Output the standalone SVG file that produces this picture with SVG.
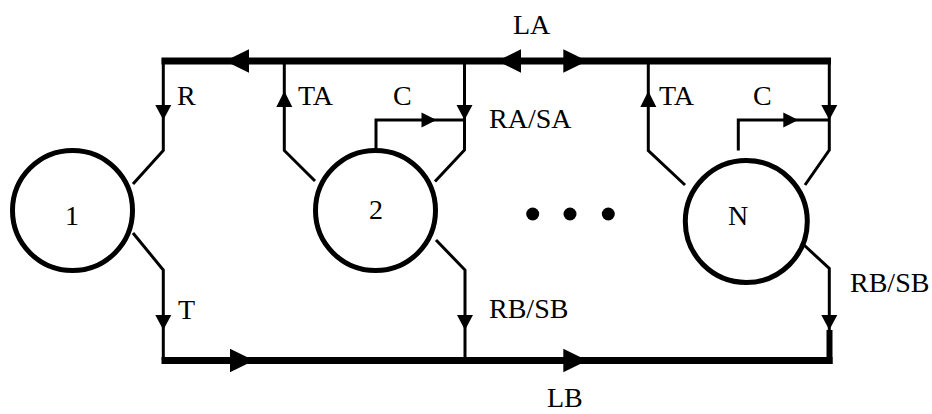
<svg xmlns="http://www.w3.org/2000/svg" width="932" height="414" viewBox="0 0 932 414">
<style>
.bus{stroke:#000;stroke-width:7;fill:none}
.ln{stroke:#000;stroke-width:3;fill:none;stroke-linejoin:miter}
.node{stroke:#000;stroke-width:5;fill:#fff}
.ah{fill:#000}
text{font-family:"Liberation Serif","Times New Roman",serif;font-size:28px;fill:#000}
.mid{text-anchor:middle}
</style>
<defs>
<path id="dn" d="M0,0 L-8,-15 L8,-15 Z"/>
<path id="rt" d="M0,0 L-15,-7.5 L-15,7.5 Z"/>
<path id="big" d="M0,0 L-24,-11.7 L-24,11.7 Z"/>
</defs>
<rect width="932" height="414" fill="#fff"/>
<g id="connectors">
<path class="bus" d="M161.5,61 H831"/>
<path class="bus" d="M161.5,360.5 H832.5"/>
<path d="M829.5,330 V364" stroke="#000" stroke-width="6"/>
<path class="ln" d="M163.3,59 V150.5 L133,184"/>
<path class="ln" d="M133,233 L163.3,270 V360"/>
<path class="ln" d="M284.3,59 V150.5 L315,181"/>
<path class="ln" d="M376,148 V120 H465"/>
<path class="ln" d="M464.5,59 V150 L435,181.5"/>
<path class="ln" d="M436,240 L465,270 V360"/>
<path class="ln" d="M648.3,59 V150.5 L685,185"/>
<path class="ln" d="M738.3,150.5 V120 H829.3"/>
<path class="ln" d="M829.3,59 V150 L805,185"/>
<path class="ln" d="M804,245 L829.3,268.5 V330"/>
<g class="ah">
<use href="#dn" x="163.3" y="120"/>
<use href="#dn" x="464.5" y="120"/>
<use href="#dn" x="829.3" y="120"/>
<use href="#dn" x="163.3" y="330"/>
<use href="#dn" x="465" y="330"/>
<use href="#dn" x="829.3" y="330"/>
<path d="M284.3,91 L276.3,107 L292.3,107 Z"/>
<path d="M648.3,91 L640.3,107 L656.3,107 Z"/>
<use href="#rt" x="436.5" y="120"/>
<use href="#rt" x="798.3" y="120"/>
<path d="M225,61 L249,49.3 L249,72.7 Z"/>
<path d="M497,61 L521,49.3 L521,72.7 Z"/>
<use href="#big" x="587.3" y="61"/>
<use href="#big" x="254" y="360.5"/>
<use href="#big" x="587.3" y="360.5"/>
</g>
<text x="513" y="34">LA</text>
<text x="177" y="105">R</text>
<text x="298" y="105">TA</text>
<text x="393" y="105">C</text>
<text x="489" y="128">RA/SA</text>
<text x="659" y="105">TA</text>
<text x="753" y="105">C</text>
<text x="178" y="319">T</text>
<text x="489" y="318">RB/SB</text>
<text x="850" y="292">RB/SB</text>
<text x="547" y="407">LB</text>
</g>
<g id="node1">
<circle class="node" cx="72.5" cy="210.5" r="60"/>
<text class="mid" x="72" y="225">1</text>
</g>
<g id="node2">
<circle class="node" cx="375.5" cy="210.5" r="60"/>
<text class="mid" x="376" y="219">2</text>
</g>
<g id="nodeN">
<circle class="node" cx="746.3" cy="221.5" r="61"/>
<text class="mid" x="738" y="225">N</text>
</g>
<g id="ellipsis">
<circle cx="532.7" cy="214" r="6.5"/>
<circle cx="570" cy="214" r="6.5"/>
<circle cx="608.3" cy="214" r="6.5"/>
</g>
</svg>
